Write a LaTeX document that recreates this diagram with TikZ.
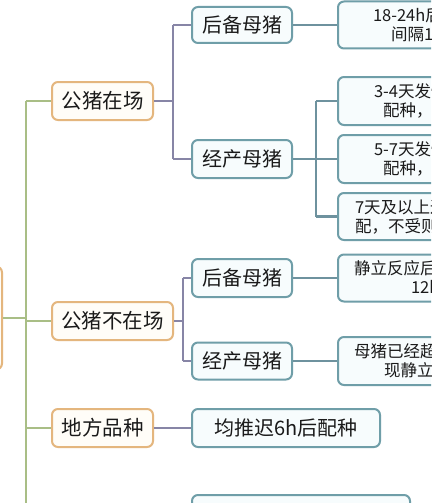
\documentclass[tikz,border=0pt]{standalone}
\usepackage{fontspec}
\newfontfamily\cjk{Noto Sans CJK SC}
\definecolor{orgB}{HTML}{E4B67E}
\definecolor{orgF}{HTML}{FFFDF8}
\definecolor{tealB}{HTML}{6F9EA8}
\definecolor{tealF}{HTML}{F7FCFD}
\definecolor{trunkC}{HTML}{A9BE86}
\definecolor{purpC}{HTML}{8785A6}
\definecolor{tealC}{HTML}{6E929E}
\definecolor{txt}{HTML}{1A1A1A}
\tikzset{
  lvone/.style={draw=orgB, fill=orgF, line width=2pt, rounded corners=6pt,
    minimum height=38pt, inner sep=0pt, text=txt, font=\cjk\fontsize{20.5}{24}\selectfont},
  lvtwo/.style={draw=tealB, fill=tealF, line width=2pt, rounded corners=6pt,
    minimum height=38pt, inner sep=0pt, text=txt, font=\cjk\fontsize{20}{24}\selectfont},
  lvthree/.style={draw=tealB, fill=tealF, line width=2pt, rounded corners=6pt,
    anchor=west, text width=200pt, inner xsep=16pt, inner ysep=0pt, align=left,
    text=txt, font=\cjk\fontsize{16.5}{19}\selectfont},
  trunk/.style={draw=trunkC, line width=2.8pt},
  purpconn/.style={draw=purpC, line width=2.6pt},
  tealconn/.style={draw=tealC, line width=2.6pt},
}
\begin{document}
\begin{tikzpicture}[x=1pt, y=-1pt]
\useasboundingbox (0,0) rectangle (431,503);
\fill[white] (0,0) rectangle (431,503);
\clip (0,0) rectangle (431,503);

% root (mostly off the left edge)
\node[lvone, minimum width=62pt, minimum height=103pt] (root) at (-29,318) {};

% level 1
\node[lvone, minimum width=101pt] (A) at (102.5,101) {公猪在场};
\node[lvone, minimum width=121pt] (B) at (112.5,321) {公猪不在场};
\node[lvone, minimum width=101pt] (C) at (102.5,428) {地方品种};

% level 2
\node[lvtwo, minimum width=100pt, minimum height=36pt] (A1) at (242,25) {后备母猪};
\node[lvtwo, minimum width=100pt] (A2) at (242,159) {经产母猪};
\node[lvtwo, minimum width=100pt] (B1) at (242,278) {后备母猪};
\node[lvtwo, minimum width=100pt, minimum height=37pt] (B2) at (242,361) {经产母猪};
\node[lvtwo, minimum width=188pt] (C1) at (286,428) {均推迟6h后配种};
\node[lvtwo, minimum width=218pt, minimum height=45pt] (D1) at (301,517.5) {};

% level 3
\node[lvthree, minimum height=47pt, inner xsep=35pt] (A1a) at (337,25)
  {18-24h后配种，\\\hspace*{18pt}间隔12h再配};
\node[lvthree, minimum height=48pt, inner xsep=36pt] (A2a) at (337,101)
  {3-4天发情，静立后\\\hspace*{9pt}配种，间隔12h再配};
\node[lvthree, minimum height=48pt, inner xsep=36pt] (A2b) at (337,159)
  {5-7天发情，静立后\\\hspace*{9pt}配种，间隔8h再配};
\node[lvthree, minimum height=47pt, inner xsep=17pt] (A2c) at (337,216.5)
  {7天及以上返情，立即\\配，不受则间隔12h复配};
\node[lvthree, minimum height=47pt, inner xsep=16pt] (B1a) at (337,278)
  {静立反应后立即配种，\\\hspace*{57pt}12h后复配};
\node[lvthree, minimum height=48pt, inner xsep=16pt] (B2a) at (337,361)
  {母猪已经超过发情期未出\\\hspace*{30pt}现静立反应立即配种};

% trunk
\coordinate (gtop) at (26,101);
\coordinate (gbot) at (26,510);
\draw[trunk] (gtop) -- (gbot);
\draw[trunk] (root.east) -- (root.east -| gtop);
\draw[trunk] (gtop) -- (A.west);
\draw[trunk] (B.west -| gtop) -- (B.west);
\draw[trunk] (C.west -| gtop) -- (C.west);

% level 1 -> level 2
\draw[purpconn] (A.east) -- ++(19,0) coordinate (abus);
\draw[purpconn] (abus |- A1.west) -- (abus |- A2.west);
\draw[purpconn] (abus |- A1.west) -- (A1.west);
\draw[purpconn] (abus |- A2.west) -- (A2.west);
\draw[purpconn] (B.east) -- ++(9,0) coordinate (bbus);
\draw[purpconn] (bbus |- B1.west) -- (bbus |- B2.west);
\draw[purpconn] (bbus |- B1.west) -- (B1.west);
\draw[purpconn] (bbus |- B2.west) -- (B2.west);
\draw[purpconn] (C.east) -- (C1.west);

% level 2 -> level 3
\draw[tealconn] (A1.east) -- (A1a.west);
\draw[tealconn] (A2.east) -- ++(23,0) coordinate (cbus);
\draw[tealconn] (cbus |- A2a.west) -- (cbus |- A2c.west);
\draw[tealconn] (cbus |- A2a.west) -- (A2a.west);
\draw[tealconn] (cbus |- A2b.west) -- (A2b.west);
\draw[tealconn] (cbus |- A2c.west) -- (A2c.west);
\draw[tealconn] (B1.east) -- (B1a.west);
\draw[tealconn] (B2.east) -- (B2a.west);
\end{tikzpicture}
\end{document}
